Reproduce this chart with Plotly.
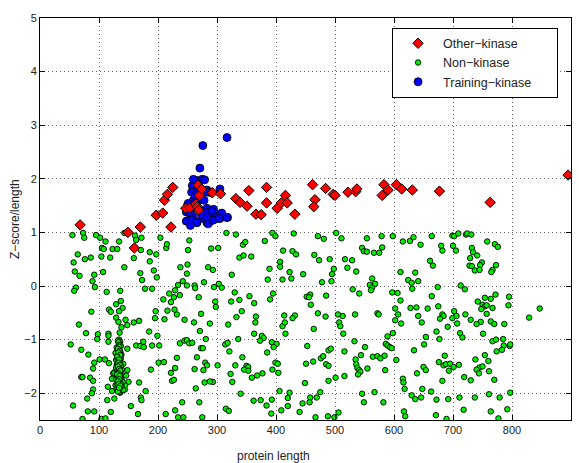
import plotly.graph_objects as go

# ---------------- data ----------------
other_x = [68, 149, 160, 170, 222, 197, 208, 211, 216, 225, 247, 254, 264, 268, 270, 274, 267, 269,
           292, 306, 332, 339, 351, 354, 366, 375, 384, 384, 402, 409, 416, 419, 432, 462, 466, 464,
           484, 497, 500, 522, 535, 537, 583, 580, 590, 604, 613, 631, 677, 763, 895]
other_y = [1.14, 1.00, 0.71, 1.10, 1.10, 1.32, 1.36, 1.60, 1.71, 1.84, 1.45, 1.46, 1.53, 1.88, 1.69, 1.81, 1.48, 1.42,
           1.74, 1.72, 1.63, 1.56, 1.49, 1.78, 1.34, 1.33, 1.84, 1.55, 1.45, 1.55, 1.69, 1.55, 1.34, 1.89, 1.61, 1.48,
           1.82, 1.71, 1.69, 1.75, 1.76, 1.81, 1.89, 1.69, 1.79, 1.89, 1.81, 1.79, 1.77, 1.56, 2.07]

train_x = [276, 317, 271, 266, 275, 279, 258, 262, 266, 283, 305, 250, 257, 260, 254, 248, 253, 266, 259,
           271, 276, 283, 287, 291, 284, 288, 283, 294, 305, 307, 318, 294, 268, 271, 278, 274, 260,
           260, 257, 263, 277, 285, 291, 251, 248, 254, 249, 257, 266, 274, 284, 291, 288, 284, 285, 294,
           283, 308, 304, 316, 255]
train_y = [2.62, 2.77, 2.20, 1.97, 1.99, 1.98, 1.87, 1.76, 1.74, 1.79, 1.81, 1.50, 1.54, 1.45, 1.39, 1.21, 1.23, 1.18, 1.30,
           1.41, 1.34, 1.45, 1.35, 1.40, 1.26, 1.20, 1.18, 1.43, 1.26, 1.35, 1.28, 1.32, 1.61, 1.69, 1.60, 1.26, 1.60,
           1.99, 1.75, 1.69, 1.75, 1.75, 1.74, 1.54, 1.38, 1.38, 1.21, 1.23, 1.19, 1.32, 1.38, 1.40, 1.28, 1.23, 1.16, 1.23,
           1.28, 1.36, 1.26, 1.28, 1.13]

non_x = [
    # upper-left block
    55, 73, 75, 95, 102, 111, 134, 143, 161, 163, 172, 204, 253, 214, 215, 105, 108, 123, 131, 64, 76, 86, 104, 119,
    159, 171, 186, 197, 186, 251, 290, 57, 59, 67, 92, 107, 143, 170, 173, 193, 198, 89, 93, 61, 58, 113, 136, 178,
    190, 238, 250, 249, 242, 234, 249, 262, 263, 278, 285, 293, 295, 229, 219, 227, 209, 222, 269, 237, 297, 298,
    137, 129, 140, 87, 117, 120, 134, 129, 133, 145, 159, 168, 196, 195, 211, 216, 228, 232, 245, 273, 288, 66, 261,
    # upper-middle block
    316, 332, 394, 399, 430, 471, 481, 502, 511, 554, 579, 598, 302, 344, 348, 381, 338, 345, 358, 412, 428, 434,
    407, 407, 465, 473, 491, 517, 529, 546, 549, 554, 566, 575, 580, 389, 423, 446, 411, 426, 325, 386, 498, 495,
    494, 478, 521, 536, 563, 559, 563, 568, 561, 530, 541, 597, 303, 308, 330, 355, 324, 338, 363, 390, 395, 452,
    458, 456, 459, 485, 342, 333, 366, 365, 319, 414, 432, 428, 471, 484, 505, 513, 534, 572, 574,
    # upper-right block
    615, 627, 633, 664, 645, 699, 702, 709, 722, 724, 731, 680, 682, 700, 705, 732, 734, 741, 729, 749, 746, 728,
    732, 737, 745, 758, 771, 776, 773, 767, 765, 661, 666, 611, 636, 624, 630, 641, 631, 674, 713, 720, 606, 664,
    611, 602, 628, 638, 657, 675, 607, 641, 647, 612, 682, 684, 678, 702, 699, 706, 721, 707, 742, 754, 764, 772,
    795, 794, 750, 754, 757, 767, 748, 757, 730, 747, 764, 740, 770, 787, 847, 829,
    # lower-left block
    78, 98, 97, 116, 116, 116, 52, 70, 82, 92, 90, 101, 110, 117, 70, 72, 85, 90, 90, 88, 80, 56, 81, 92, 72, 104,
    111, 120, 114, 126, 115, 122, 148, 138, 135, 134, 136, 148, 163, 170, 175, 176, 185, 190, 199, 202, 201, 210,
    188, 222, 229, 232, 224, 227, 237, 245, 249, 253, 258, 271, 281, 266, 273, 276, 277, 280, 283, 262, 293, 279,
    288, 264, 241, 270, 213, 229, 234, 243, 275, 154, 166, 179, 171, 172, 136, 144, 168,
    138, 146, 148, 124, 122, 133, 141, 131, 150, 144,
    # dense column near length 130
    132, 135, 130, 137, 133, 128, 136, 131, 134, 138, 129, 135, 132, 137, 130, 134, 136, 131, 133, 139, 127, 135,
    132, 138, 130, 134, 136, 129, 133, 137, 131, 135, 140, 128, 134, 132, 136, 130, 138, 133, 135, 131, 137, 134,
    129, 136, 132, 141, 126, 134,
    133, 134, 132, 135, 136, 133, 131, 134, 135, 132, 137, 133, 134, 136, 131, 135, 133, 132, 134, 136,
    133, 135, 132, 134, 137, 131, 133, 135, 134, 132, 136, 133, 134, 135, 132, 133, 134, 136, 131, 135,
    134, 132, 135, 133, 136, 131, 134, 133, 135, 132, 134, 136, 133, 131, 135, 134, 132, 133, 136, 134,
    # lower-middle block
    363, 376, 379, 373, 393, 401, 396, 336, 314, 318, 321, 343, 385, 301, 331, 350, 353, 346, 353, 359, 368, 377,
    394, 399, 403, 404, 323, 326, 464, 453, 451, 463, 476, 480, 489, 493, 485, 489, 449, 489, 501, 516, 533, 551,
    516, 544, 535, 536, 538, 541, 543, 539, 555, 564, 572, 577, 584, 585, 586, 589, 593, 596, 589, 598, 507, 509,
    514, 340, 362, 374, 384, 393, 406, 423, 420, 420, 409, 392, 315, 320, 440, 445, 458, 469, 475, 457, 467, 488,
    499, 506, 546, 549, 567, 582, 411, 415, 416,
    # lower-right block
    602, 691, 672, 712, 716, 654, 677, 751, 767, 773, 785, 651, 786, 774, 783, 796, 797, 634, 604, 686, 676, 684,
    688, 695, 701, 710, 693, 650, 654, 639, 615, 616, 682, 719, 730, 738, 754, 760, 745, 750, 740, 744, 761, 770,
    618, 648, 663, 630, 636, 646, 672, 692, 711, 737, 761, 779, 797, 617, 619, 671, 689, 718, 764, 777, 792,
]
non_y = [
    # upper-left block
    0.95, 0.99, 0.90, 0.95, 0.90, 0.83, 0.83, 0.99, 0.94, 0.86, 0.90, 0.90, 0.85, 0.71, 0.78, 0.71, 0.69, 0.69, 0.69,
    0.59, 0.50, 0.53, 0.55, 0.53, 0.52, 0.67, 0.63, 0.59, 0.46, 0.67, 0.70, 0.44, 0.27, 0.19, 0.21, 0.26, 0.35, 0.24,
    0.11, 0.29, 0.16, 0.09, -0.02, -0.03, -0.09, -0.11, -0.09, -0.05, -0.05, 0.35, 0.40, 0.23, 0.09, 0.02, 0.01, 0.01,
    -0.04, 0.07, 0.35, 0.30, -0.02, -0.08, -0.14, -0.21, -0.25, -0.30, -0.21, -0.17, -0.29, -0.39, -0.28, -0.34,
    -0.41, -0.48, -0.44, -0.48, -0.47, -0.59, -0.67, -0.63, -0.68, -0.65, -0.47, -0.60, -0.62, -0.46, -0.44, -0.53,
    -0.63, -0.52, -0.70, -0.72, -0.68,
    # upper-middle block
    0.99, 0.96, 0.99, 0.93, 0.98, 0.93, 0.88, 0.99, 0.89, 0.89, 0.93, 0.93, 0.71, 0.77, 0.82, 0.84, 0.53, 0.57, 0.55,
    0.66, 0.65, 0.59, 0.45, 0.36, 0.58, 0.48, 0.50, 0.50, 0.48, 0.71, 0.65, 0.64, 0.62, 0.62, 0.72, 0.32, 0.26, 0.22,
    0.12, 0.14, 0.21, 0.12, 0.32, 0.22, 0.09, 0.07, 0.34, 0.27, 0.14, 0.02, -0.03, 0.04, -0.08, -0.06, -0.14, -0.12,
    0.04, -0.03, -0.12, -0.19, -0.29, -0.26, -0.32, -0.25, -0.14, -0.20, -0.16, -0.21, -0.35, -0.18, -0.47, -0.58,
    -0.57, -0.68, -0.72, -0.55, -0.55, -0.60, -0.51, -0.57, -0.53, -0.56, -0.53, -0.51, -0.53,
    # upper-right block
    0.83, 0.84, 0.91, 0.93, 0.77, 0.94, 0.93, 0.98, 0.96, 0.98, 0.96, 0.75, 0.66, 0.75, 0.66, 0.71, 0.63, 0.57, 0.52,
    0.44, 0.39, 0.38, 0.37, 0.29, 0.30, 0.83, 0.78, 0.73, 0.39, 0.30, 0.26, 0.47, 0.38, 0.26, 0.25, 0.11, 0.06, 0.09,
    -0.05, -0.02, 0.01, -0.06, -0.13, -0.19, -0.27, -0.42, -0.41, -0.40, -0.42, -0.38, -0.53, -0.56, -0.68, -0.70,
    -0.53, -0.56, -0.61, -0.47, -0.60, -0.56, -0.53, -0.70, -0.29, -0.22, -0.24, -0.16, -0.20, -0.36, -0.35, -0.38,
    -0.36, -0.41, -0.43, -0.52, -0.63, -0.67, -0.66, -0.71, -0.71, -0.71, -0.42, -0.59,
    # lower-left block
    -0.88, -0.90, -0.99, -0.89, -0.93, -1.04, -1.09, -1.19, -1.28, -1.43, -1.54, -1.37, -1.37, -1.44, -1.70, -1.70,
    -1.71, -1.77, -1.93, -2.00, -2.10, -2.23, -2.34, -2.34, -2.48, -2.48, -2.47, -2.35, -2.13, -2.10, -1.88, -1.96,
    -0.73, -0.77, -0.87, -1.00, -1.04, -1.17, -1.11, -1.12, -1.04, -1.14, -0.85, -1.11, -0.93, -1.11, -1.43, -1.42,
    -1.56, -1.62, -1.53, -1.34, -1.77, -1.75, -1.07, -1.02, -1.01, -1.07, -1.06, -0.84, -0.99, -1.33, -1.16, -1.16,
    -1.57, -1.43, -1.48, -1.55, -1.79, -1.80, -1.78, -1.91, -2.17, -2.17, -2.39, -2.32, -2.45, -2.45, -2.45, -2.24,
    -2.39, -1.96, -2.08, -2.13, -1.99, -1.93, -1.80,
    -1.73, -1.67, -1.57, -1.63, -1.73, -1.82, -1.94, -1.91, -1.79, -1.85,
    # dense column near length 130
    -1.02, -1.08, -1.15, -1.12, -1.20, -1.25, -1.22, -1.30, -1.33, -1.28, -1.38, -1.36, -1.42, -1.45, -1.47, -1.50,
    -1.52, -1.55, -1.58, -1.56, -1.60, -1.62, -1.65, -1.63, -1.68, -1.70, -1.72, -1.74, -1.76, -1.78, -1.80, -1.82,
    -1.79, -1.85, -1.87, -1.90, -1.88, -1.92, -1.86, -1.95, -1.40, -1.48, -1.35, -1.60, -1.53, -1.66, -1.74, -1.45,
    -1.62, -1.98,
    -1.05, -1.10, -1.18, -1.23, -1.27, -1.31, -1.34, -1.39, -1.41, -1.44, -1.49, -1.51, -1.54, -1.57, -1.59, -1.61,
    -1.64, -1.67, -1.69, -1.71, -1.73, -1.75, -1.77, -1.81, -1.83, -1.84, -1.89, -1.91, -1.93, -1.97, -1.66, -1.46,
    -1.26, -1.36, -1.56, -1.76, -1.52, -1.42, -1.62, -1.72,
    -1.13, -1.17, -1.21, -1.24, -1.29, -1.32, -1.37, -1.43, -1.47, -1.50, -1.55, -1.58, -1.63, -1.65, -1.68,
    -1.74, -1.78, -1.83, -1.86, -1.90,
    # lower-middle block
    -0.89, -0.93, -0.97, -1.02, -1.05, -1.08, -1.14, -0.99, -1.09, -1.06, -1.22, -1.33, -1.24, -1.48, -1.48, -1.49,
    -1.51, -1.56, -1.58, -1.71, -1.67, -1.63, -1.56, -1.43, -1.45, -1.62, -1.64, -1.79, -0.80, -1.12, -1.45, -1.41,
    -1.35, -1.31, -1.20, -1.17, -1.46, -1.49, -1.81, -1.77, -1.71, -1.68, -1.03, -1.14, -1.22, -1.29, -1.37, -1.46,
    -1.53, -1.57, -1.60, -1.65, -1.54, -1.32, -1.31, -1.35, -1.30, -1.57, -1.08, -1.11, -1.14, -1.16, -0.94, -0.88,
    -0.68, -0.75, -0.89, -2.01, -2.14, -2.13, -2.23, -2.12, -1.96, -1.99, -2.09, -2.24, -2.32, -2.38, -2.29, -2.33,
    -2.35, -2.19, -2.08, -2.08, -1.98, -2.17, -2.45, -2.43, -2.45, -2.36, -2.01, -2.17, -1.98, -2.17, -0.75, -0.68,
    -0.89,
    # lower-right block
    -0.64, -0.76, -0.85, -0.88, -0.96, -0.95, -0.99, -0.89, -1.03, -1.00, -0.99, -1.09, -1.11, -1.22, -1.19, -1.12,
    -1.09, -1.20, -1.38, -1.30, -1.42, -1.48, -1.46, -1.45, -1.51, -1.47, -1.58, -1.51, -1.57, -1.63, -1.73, -1.80,
    -1.77, -1.70, -1.76, -1.37, -1.29, -1.40, -1.52, -1.50, -1.56, -1.63, -1.59, -1.75, -1.92, -1.92, -1.97, -2.04,
    -2.11, -2.08, -2.12, -2.11, -2.08, -2.08, -2.02, -2.08, -1.99, -2.34, -2.43, -2.41, -2.48, -2.31, -2.34, -2.47,
    -2.30,
]

x_ticks = [0, 100, 200, 300, 400, 500, 600, 700, 800, 900]
y_ticks = [-2, -1, 0, 1, 2, 3, 4, 5]

FONT = "Liberation Sans, Arial, Helvetica, sans-serif"
PAD = "\u00a0" * 6  # widens the legend box like the original

fig = go.Figure()
fig.add_trace(go.Scatter(
    x=non_x, y=non_y, mode="markers", name="Non\u2212kinase", legendrank=2,
    marker=dict(symbol="circle", size=5.5, color="#00ee00", line=dict(color="black", width=0.9)),
))
fig.add_trace(go.Scatter(
    x=train_x, y=train_y, mode="markers", name="Training\u2212kinase" + PAD, legendrank=3,
    marker=dict(symbol="circle", size=8, color="#0000ff", line=dict(color="black", width=0.8)),
))
fig.add_trace(go.Scatter(
    x=other_x, y=other_y, mode="markers", name="Other\u2212kinase", legendrank=1,
    marker=dict(symbol="diamond", size=8, color="#ff0000", line=dict(color="black", width=1)),
))

axis_common = dict(
    showline=True, linecolor="black", linewidth=1, mirror="allticks",
    ticks="inside", ticklen=5, tickcolor="black",
    showgrid=True, gridcolor="#666", griddash="1px,3px", gridwidth=1,
    zeroline=False, tickfont=dict(family=FONT, size=11, color="#222"),
)
fig.update_xaxes(range=[0, 900], tickvals=x_ticks, **axis_common)
fig.update_yaxes(range=[-2.5, 5], tickvals=y_ticks, **axis_common)

fig.add_annotation(text="protein length", xref="paper", yref="paper", x=0.44, y=-0.09,
                   xanchor="center", yanchor="middle", showarrow=False,
                   font=dict(family=FONT, size=12, color="#222"))
fig.add_annotation(text="Z\u2212score/length", xref="paper", yref="paper", x=-0.047, y=0.5,
                   xanchor="center", yanchor="middle", textangle=-90, showarrow=False,
                   font=dict(family=FONT, size=12, color="#222"))

fig.update_layout(
    width=579, height=463,
    margin=dict(l=40, r=8, t=18, b=43),
    paper_bgcolor="white", plot_bgcolor="white",
    font=dict(family=FONT, size=12, color="#222"),
    legend=dict(x=0.663, y=0.976, xanchor="left", yanchor="top",
                bgcolor="white", bordercolor="black", borderwidth=1,
                font=dict(family=FONT, size=12.5, color="#222"),
                tracegroupgap=0, itemsizing="trace", itemwidth=40),
    showlegend=True,
)

fig.write_html("out.html")
